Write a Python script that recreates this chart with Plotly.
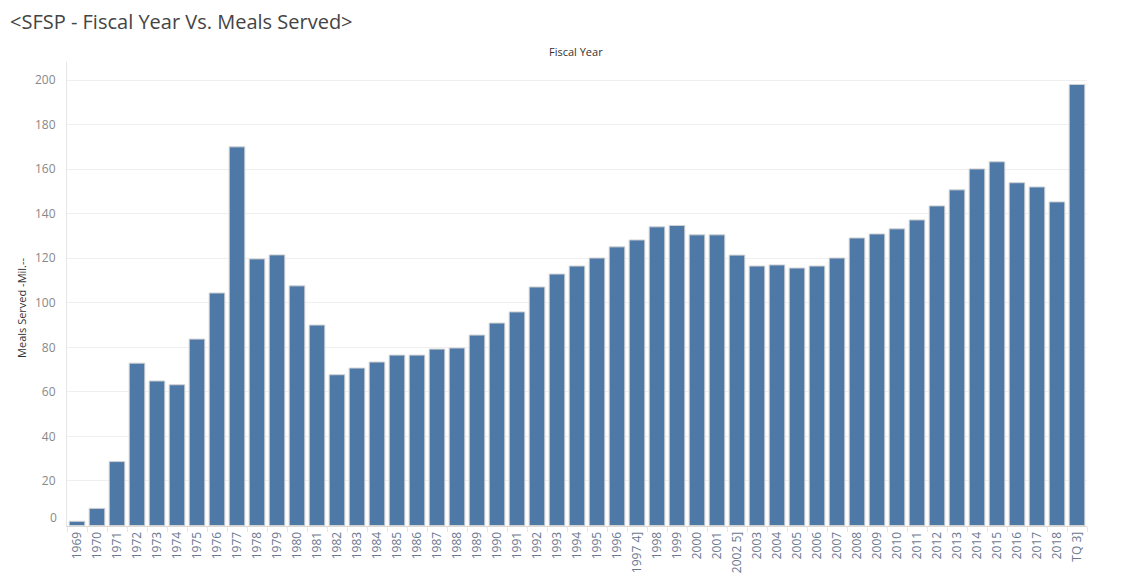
import plotly.graph_objects as go

years = [str(y) for y in range(1969, 1997)] + ["1997 4]"] + [str(y) for y in range(1998, 2002)] + ["2002 5]"] + [str(y) for y in range(2003, 2019)] + ["TQ 3]"]

meals = [1.9, 7.7, 28.7, 72.9, 64.9, 63.2, 83.7, 104.4, 170.0, 119.7,
         121.5, 107.6, 90.0, 67.7, 70.7, 73.4, 76.5, 76.5, 79.2, 79.7,
         85.5, 90.9, 95.9, 107.1, 112.9, 116.5, 120.1, 125.1, 128.2, 134.1,
         134.7, 130.5, 130.5, 121.4, 116.5, 117.0, 115.6, 116.5, 120.1, 129.1,
         130.9, 133.2, 137.2, 143.5, 150.7, 160.1, 163.3, 153.9, 152.0, 145.3,
         198.0]

y_ticks = [20, 40, 60, 80, 100, 120, 140, 160, 180, 200]

fig = go.Figure()
fig.add_trace(go.Bar(
    x=years, y=meals,
    marker=dict(color="#4e79a7", line=dict(color="#d2d2d2", width=1)),
    hoverinfo="x+y",
))

# page body has an 8px margin; figure sized/offset to compensate
W, H = 1117, 575
fig.update_layout(
    width=W, height=H,
    margin=dict(l=59, r=38, t=54, b=57),
    paper_bgcolor="white", plot_bgcolor="white",
    bargap=0.22,
    showlegend=False,
    font=dict(family="Open Sans, Lato, sans-serif", color="#666"),
    title=dict(text="<SFSP - Fiscal Year Vs. Meals Served>", xref="container", x=2 / W,
               xanchor="left", yref="container", y=1 - 14 / H, yanchor="middle",
               font=dict(size=20, color="#444", family="Open Sans, sans-serif")),
)

fig.update_xaxes(
    type="category",
    tickangle=-90,
    tickfont=dict(size=12, color="#6a7890"),
    showgrid=False,
    showline=True, linecolor="#d9d9d9", linewidth=1,
    ticks="outside", tickson="boundaries", ticklen=5, tickcolor="#e6e6e6",
    automargin=False,
)
fig.update_yaxes(
    range=[-0.22, 208.1],
    tickvals=y_ticks,
    tickfont=dict(size=12, color="#888"),
    showgrid=True, gridcolor="#efefef", gridwidth=1,
    zeroline=False,
    showline=True, linecolor="#e6e6e6", linewidth=1,
    ticks="", ticklabelstandoff=8,
    automargin=False,
)

fig.add_annotation(text="0", xref="paper", yref="y", x=0, y=0, xanchor="right",
                   yanchor="middle", xshift=-8, yshift=8, showarrow=False,
                   font=dict(size=12, color="#888"))
fig.add_annotation(text="Fiscal Year", xref="paper", yref="paper", x=0.499, y=1,
                   xanchor="center", yanchor="bottom", yshift=1, showarrow=False,
                   font=dict(size=11, color="#333"))
fig.add_annotation(text="Meals Served -Mil.--", xref="paper", yref="paper",
                   x=-45 / 1020, y=0.47, textangle=-90, xanchor="center", yanchor="middle",
                   showarrow=False, font=dict(size=11, color="#333"))

fig.write_html("out.html")
